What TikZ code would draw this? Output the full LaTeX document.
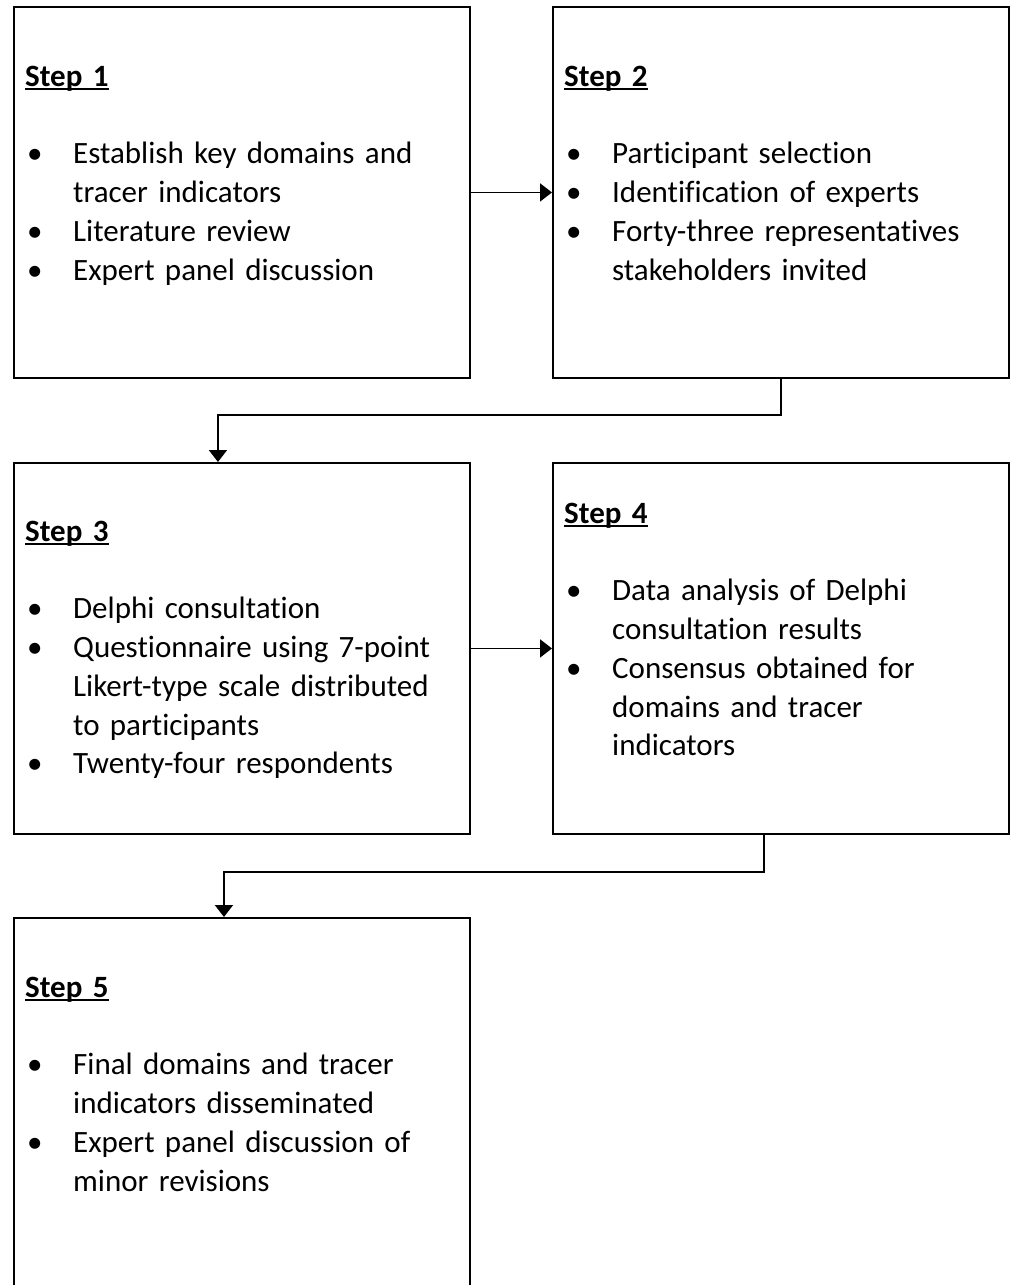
\documentclass[tikz,border=0pt]{standalone}
\usepackage{fontspec}
\setmainfont{Carlito}[Ligatures=NoCommon]
\usetikzlibrary{positioning, arrows.meta}

\newcommand{\steptitle}[1]{\setbox0\hbox{\bfseries #1}\rlap{\rule[-3.5pt]{\wd0}{1.8pt}}\box0}
\newcommand{\bitem}[1]{\noindent\hangindent=48pt\hangafter=1\makebox[48pt][l]{\hspace{2pt}\textbullet}#1\par}

\begin{document}
\begin{tikzpicture}[
  x=1pt, y=-1pt,
  >={Triangle[length=12pt,width=18pt]},
  every node/.style={font=\fontsize{31}{38.8}\selectfont},
  stepbox/.style={draw, line width=1.9pt, anchor=north west, inner sep=0pt,
               minimum width=456pt, minimum height=371pt},
  steptext/.style={anchor=north west, inner sep=0pt, text width=440pt, align=left},
  link/.style={->, line width=1.9pt}
]
\useasboundingbox (0,0) rectangle (1011,1285);
\clip (0,0) rectangle (1011,1285);

% ---- Boxes ----
\node[stepbox] (s1) at (13,6) {};
\node[stepbox] (s2) at (552,6) {};
\node[stepbox] (s3) at (13,462) {};
\node[stepbox] (s4) at (552,462) {};
\node[stepbox, minimum height=420pt] (s5) at (13,917) {};

% ---- Texts ----
\node[steptext] (t1) at (25,65.5)
  {\steptitle{Step 1}\par\vspace{\baselineskip}
   \bitem{Establish key domains and\newline tracer indicators}
   \bitem{Literature review}
   \bitem{Expert panel discussion}};

\node[steptext] (t2) at (564,65.5)
  {\steptitle{Step 2}\par\vspace{\baselineskip}
   \bitem{Participant selection}
   \bitem{Identification of experts}
   \bitem{Forty-three representatives\newline stakeholders invited}};

\node[steptext] (t3) at (25,520.5)
  {\steptitle{Step 3}\par\vspace{\baselineskip}
   \bitem{Delphi consultation}
   \bitem{Questionnaire using 7-point\newline Likert-type scale distributed\newline to participants}
   \bitem{Twenty-four respondents}};

\node[steptext] (t4) at (564,502.5)
  {\steptitle{Step 4}\par\vspace{\baselineskip}
   \bitem{Data analysis of Delphi\newline consultation results}
   \bitem{Consensus obtained for\newline domains and tracer\newline indicators}};

\node[steptext] (t5) at (25,976.5)
  {\steptitle{Step 5}\par\vspace{\baselineskip}
   \bitem{Final domains and tracer\newline indicators disseminated}
   \bitem{Expert panel discussion of\newline minor revisions}};

% ---- Arrows ----
\draw[link] (s1.east) -- (s2.west);
\draw[link] (s3.east) -- (s4.west);
\draw[link] (s2.south) -- ++(0,36) -| ([xshift=-24pt]s3.north);
\draw[link] ([xshift=-17pt]s4.south) -- ++(0,37) -| ([xshift=-18pt]s5.north);

\end{tikzpicture}
\end{document}
